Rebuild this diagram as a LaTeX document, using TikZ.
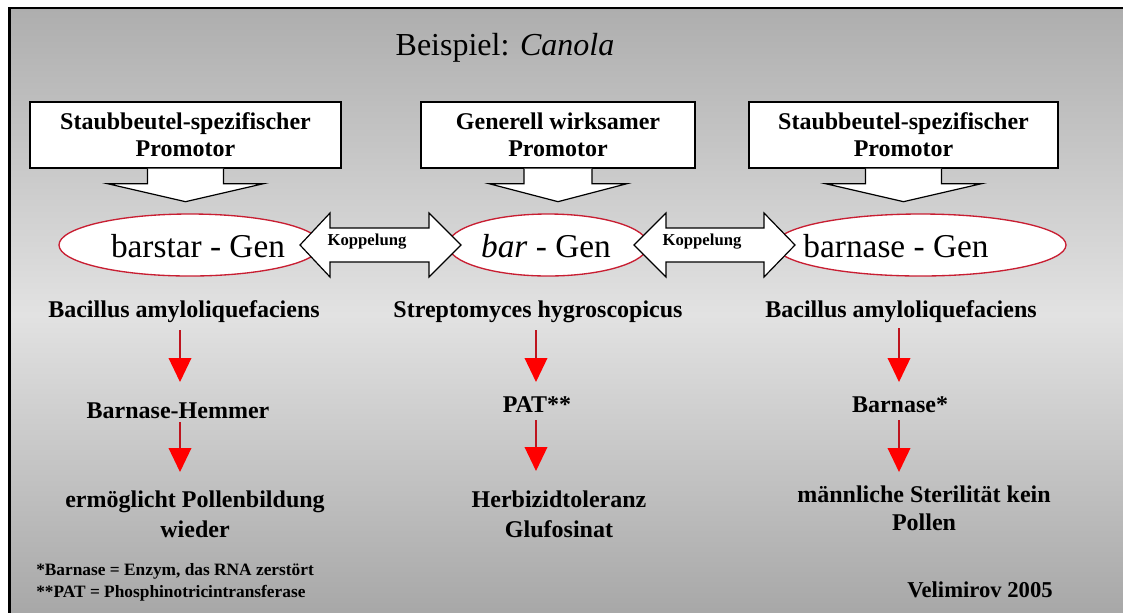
\documentclass[tikz,border=0pt]{standalone}
\usepackage{fontspec}
\setmainfont{Liberation Serif}
\usetikzlibrary{calc,arrows.meta,shapes.geometric}
\definecolor{bgtop}{RGB}{174,174,174}
\definecolor{bgmid}{RGB}{226,226,226}
\definecolor{bgbot}{RGB}{166,166,166}
\definecolor{ellred}{RGB}{200,30,50}
\definecolor{arrline}{RGB}{190,20,30}
\begin{document}
\begin{tikzpicture}[x=0.75pt,y=-0.75pt,
  promobox/.style={draw=black,line width=1pt,fill=white,minimum height=49.5pt,inner sep=0pt,align=center,
    font=\bfseries\fontsize{18pt}{20.25pt}\selectfont},
  blockarr/.style={draw=black,line width=0.9pt,fill=white,line join=miter},
  genell/.style={ellipse,draw=ellred,line width=1pt,fill=white,minimum height=46.5pt,inner sep=0pt},
  genetxt/.style={anchor=base,inner sep=0pt,font=\fontsize{25pt}{30pt}\selectfont},
  dblarr/.style={draw=black,line width=0.9pt,fill=white},
  koptxt/.style={inner sep=0pt,font=\bfseries\fontsize{12.5pt}{14pt}\selectfont},
  lbl/.style={anchor=base,inner sep=0pt,font=\bfseries\fontsize{18pt}{22.5pt}\selectfont},
  lbltwo/.style={anchor=base,inner sep=0pt,align=center,font=\bfseries\fontsize{18pt}{#1}\selectfont},
  foot/.style={anchor=base west,inner sep=0pt,font=\bfseries\fontsize{13pt}{16pt}\selectfont},
  redarr/.style={draw=arrline,line width=1.1pt,-{Triangle[width=17pt,length=18pt,color=red,fill=red]}}
]
\useasboundingbox (0,0) rectangle (1123,612);
% background and frame
\fill[white] (0,0) rectangle (1123,612);
\fill[black] (8,7) rectangle (1130,620);
\shade[top color=bgtop,bottom color=bgbot,middle color=bgmid] (11,9) rectangle (1130,620);

% title
\node[anchor=base,inner sep=0pt,font=\fontsize{24pt}{28pt}\selectfont] (title) at (505,55) {Beispiel: \textit{Canola}};

% promoter boxes
\node[promobox,minimum width=233.25pt] (p1) at (185.5,135) {Staubbeutel-spezifischer\\Promotor};
\node[promobox,minimum width=205.5pt] (p2) at (558,135) {Generell wirksamer\\Promotor};
\node[promobox,minimum width=231.75pt] (p3) at (903.5,135) {Staubbeutel-spezifischer\\Promotor};

% block arrows below promoters
\filldraw[blockarr] ($(p1.south)+(-38,0)$) -- ++(0,15) -- ++(-40,0) -- ($(p1.south)+(0,33)$)
  -- ($(p1.south)+(78,15)$) -- ++(-40,0) -- ++(0,-15);
\filldraw[blockarr] ($(p2.south)+(-34,0)$) -- ++(0,15) -- ++(-35,0) -- ($(p2.south)+(0,33)$)
  -- ($(p2.south)+(69,15)$) -- ++(-35,0) -- ++(0,-15);
\filldraw[blockarr] ($(p3.south)+(-38,0)$) -- ++(0,15) -- ++(-40,0) -- ($(p3.south)+(0,33)$)
  -- ($(p3.south)+(78,15)$) -- ++(-40,0) -- ++(0,-15);

% gene ellipses
\node[genell,minimum width=196.5pt] (e1) at (190,245) {};
\node[genell,minimum width=150pt] (e2) at (548,245) {};
\node[genell,minimum width=218.25pt] (e3) at (920.5,245) {};
\node[genetxt] (g1) at (198,257) {barstar - Gen};
\node[genetxt] (g2) at (546,257) {\textit{bar} - Gen};
\node[genetxt] (g3) at (896,257) {barnase - Gen};

% coupling double arrows
\filldraw[dblarr] (300,245) -- (330,213) -- (330,228) -- (429,228) -- (429,213) -- (461,245)
  -- (429,277) -- (429,262) -- (330,262) -- (330,277) -- cycle;
\filldraw[dblarr] (634,245) -- (666,213) -- (666,228) -- (764,228) -- (764,213) -- (795,245)
  -- (764,277) -- (764,262) -- (666,262) -- (666,277) -- cycle;
\node[koptxt] (k1) at (367,242) {Koppelung};
\node[koptxt] (k2) at (702,242) {Koppelung};

% organism labels
\node[lbl] (bac1) at (184,317) {Bacillus amyloliquefaciens};
\node[lbl] (strep) at (538,317) {Streptomyces hygroscopicus};
\node[lbl] (bac2) at (901,317) {Bacillus amyloliquefaciens};

% products
\node[lbl] (hem) at (178,418) {Barnase-Hemmer};
\node[lbl] (pat) at (537,412) {PAT**};
\node[lbl] (barn) at (900,412) {Barnase*};

% effects (base = baseline of the last line)
\node[lbltwo=22.5pt] (erm) at (195,537) {ermöglicht Pollenbildung\\wieder};
\node[lbltwo=22.5pt] (herb) at (559,537) {Herbizidtoleranz\\Glufosinat};
\node[lbltwo=21pt] (mann) at (924,530) {männliche Sterilität kein\\Pollen};

% red arrows
\coordinate (c1) at (180,0);
\coordinate (c2) at (536,0);
\coordinate (c3) at (899,0);
\draw[redarr] ($(bac1.base -| c1)+(0,13)$) -- ($(hem.base -| c1)+(0,-36)$);
\draw[redarr] ($(hem.base -| c1)+(0,4)$) -- ($(erm.base -| c1)+(0,-65)$);
\draw[redarr] ($(strep.base -| c2)+(0,13)$) -- ($(pat.base -| c2)+(0,-30)$);
\draw[redarr] ($(pat.base -| c2)+(0,8)$) -- ($(herb.base -| c2)+(0,-66)$);
\draw[redarr] ($(bac2.base -| c3)+(0,11)$) -- ($(barn.base -| c3)+(0,-30)$);
\draw[redarr] ($(barn.base -| c3)+(0,8)$) -- ($(mann.base -| c3)+(0,-58)$);

% footnotes and credit
\node[foot] (fn1) at (36,575) {*Barnase = Enzym, das RNA zerstört};
\node[foot] (fn2) at (36,597) {**PAT = Phosphinotricintransferase};
\node[anchor=base,inner sep=0pt,font=\bfseries\fontsize{17pt}{20pt}\selectfont] (velim) at (980,597) {Velimirov 2005};
\end{tikzpicture}
\end{document}
